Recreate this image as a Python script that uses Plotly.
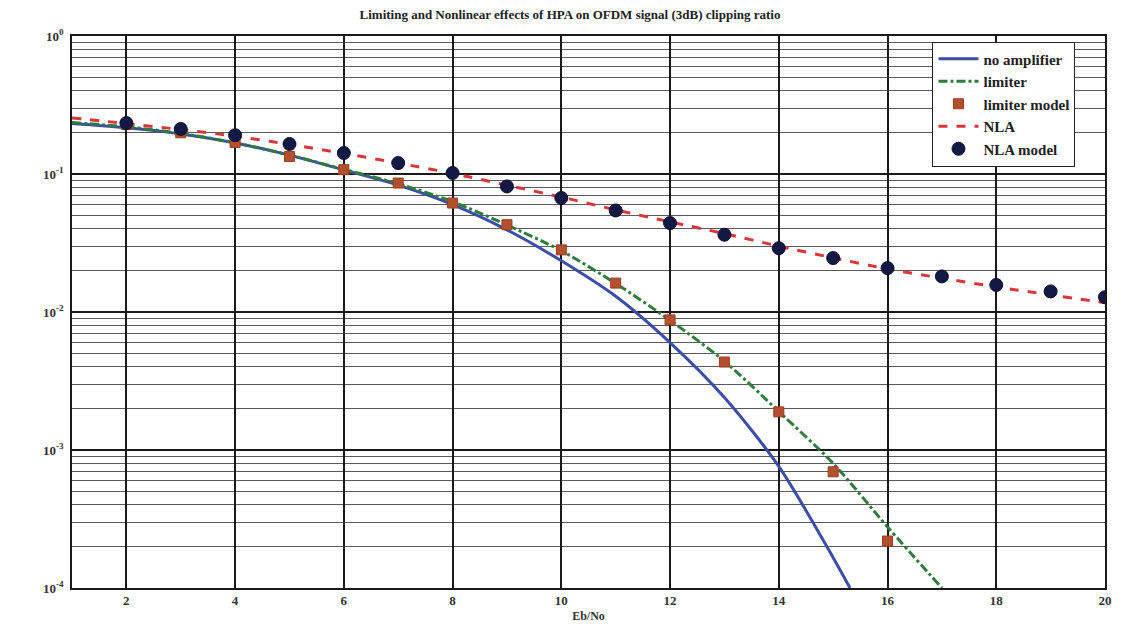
import plotly.graph_objects as go

# Eb/No axis points
ebno_line = [1, 2, 3, 4, 5, 6, 7, 8, 9, 10, 11, 12, 13, 14, 15, 16, 17, 18, 19, 20]
ebno_model = [2, 3, 4, 5, 6, 7, 8, 9, 10, 11, 12, 13, 14, 15, 16, 17, 18, 19, 20]

# BER curves
ebno_noamp = [1, 2, 3, 4, 5, 6, 7, 8, 9, 10, 11, 12, 13, 14, 15, 15.31]
ber_noamp = [0.232, 0.216, 0.195, 0.168, 0.137, 0.107, 0.083, 0.060, 0.0394, 0.0235,
             0.0130, 0.0060, 0.0024, 0.00076, 0.000166, 0.0001]

ebno_limiter = [1, 2, 3, 4, 5, 6, 7, 8, 9, 10, 11, 12, 13, 14, 15, 16, 17]
ber_limiter = [0.236, 0.220, 0.197, 0.168, 0.137, 0.108, 0.085, 0.063, 0.0427, 0.0278,
               0.0161, 0.0087, 0.0044, 0.0019, 0.00080, 0.000277, 0.0001]

ebno_limiter_model = [2, 3, 4, 5, 6, 7, 8, 9, 10, 11, 12, 13, 14, 15, 16]
ber_limiter_model = [0.228, 0.199, 0.169, 0.134, 0.1075, 0.086, 0.0616, 0.0429, 0.0282,
                     0.0162, 0.00877, 0.00434, 0.00189, 0.000695, 0.000219]

ber_nla = [0.255, 0.232, 0.210, 0.188, 0.164, 0.141, 0.120, 0.101, 0.083, 0.068,
           0.055, 0.045, 0.037, 0.030, 0.0247, 0.0205, 0.0176, 0.0152, 0.0133, 0.0117]
ber_nla_model = [0.234, 0.212, 0.191, 0.165, 0.142, 0.120, 0.1017, 0.0813, 0.0670, 0.0544,
                 0.0441, 0.0363, 0.0290, 0.0246, 0.0208, 0.0181, 0.0157, 0.0141, 0.0128]

series_names = ["no amplifier", "limiter", "limiter model", "NLA", "NLA model"]

x_ticks = [2, 4, 6, 8, 10, 12, 14, 16, 18, 20]
y_ticks = [1e-4, 1e-3, 1e-2, 1e-1, 1]
y_ticktext = ["10<sup>-4</sup>", "10<sup>-3</sup>", "10<sup>-2</sup>", "10<sup>-1</sup>", "10<sup>0</sup>"]

SERIF = "Liberation Serif, DejaVu Serif, serif"

fig = go.Figure()
fig.add_trace(go.Scatter(x=ebno_noamp, y=ber_noamp, mode="lines", name=series_names[0],
                         line=dict(color="#3b4da6", width=3, shape="spline", smoothing=0.8)))
fig.add_trace(go.Scatter(x=ebno_limiter, y=ber_limiter, mode="lines", name=series_names[1],
                         line=dict(color="#2f7b3c", width=3, dash="dashdot", shape="spline", smoothing=0.8)))
fig.add_trace(go.Scatter(x=ebno_limiter_model, y=ber_limiter_model, mode="markers", name=series_names[2],
                         marker=dict(symbol="square", size=10, color="#b4502e",
                                     line=dict(color="#9a3e22", width=1))))
fig.add_trace(go.Scatter(x=ebno_line, y=ber_nla, mode="lines", name=series_names[3],
                         line=dict(color="#d8363a", width=3, dash="dash", shape="spline", smoothing=0.8)))
fig.add_trace(go.Scatter(x=ebno_model, y=ber_nla_model, mode="markers", name=series_names[4],
                         marker=dict(symbol="circle", size=13, color="#131845",
                                     line=dict(color="#0c0f30", width=1))))

fig.update_layout(
    width=1140, height=632,
    margin=dict(l=72, r=35, t=36, b=44),
    paper_bgcolor="white", plot_bgcolor="white",
    font=dict(family=SERIF, size=12, color="#222"),
    title=dict(text="Limiting and Nonlinear effects of HPA on OFDM signal (3dB) clipping ratio",
               x=0.5, xanchor="center", y=0.985, yanchor="top",
               font=dict(family=SERIF, size=13, color="#222", weight="bold")),
    legend=dict(x=0.833, y=0.99, xanchor="left", yanchor="top",
                bgcolor="white", bordercolor="#222", borderwidth=1,
                font=dict(family=SERIF, size=15, color="#222", weight="bold"),
                tracegroupgap=0, itemwidth=40),
    showlegend=True,
)

fig.update_xaxes(
    range=[1, 20], tickvals=x_ticks, ticktext=[str(v) for v in x_ticks],
    showgrid=True, gridcolor="#1a1a1a", gridwidth=1.5,
    showline=True, linecolor="#1a1a1a", linewidth=1.5, mirror=True,
    zeroline=False, ticks="", tickfont=dict(family=SERIF, size=13, color="#333", weight="bold"),
    title=dict(text="Eb/No", standoff=4, font=dict(family=SERIF, size=12, color="#333", weight="bold")),
)
fig.update_yaxes(
    type="log", range=[-4, 0], tickvals=y_ticks, ticktext=y_ticktext,
    showgrid=True, gridcolor="#1a1a1a", gridwidth=1.5,
    minor=dict(dtick="D1", showgrid=True, gridcolor="#5a5a5a", gridwidth=1.2, ticks=""),
    showline=True, linecolor="#1a1a1a", linewidth=1.5, mirror=True,
    zeroline=False, ticks="", tickfont=dict(family=SERIF, size=13, color="#333", weight="bold"),
    ticklabelstandoff=4,
)

fig.write_html("out.html")
